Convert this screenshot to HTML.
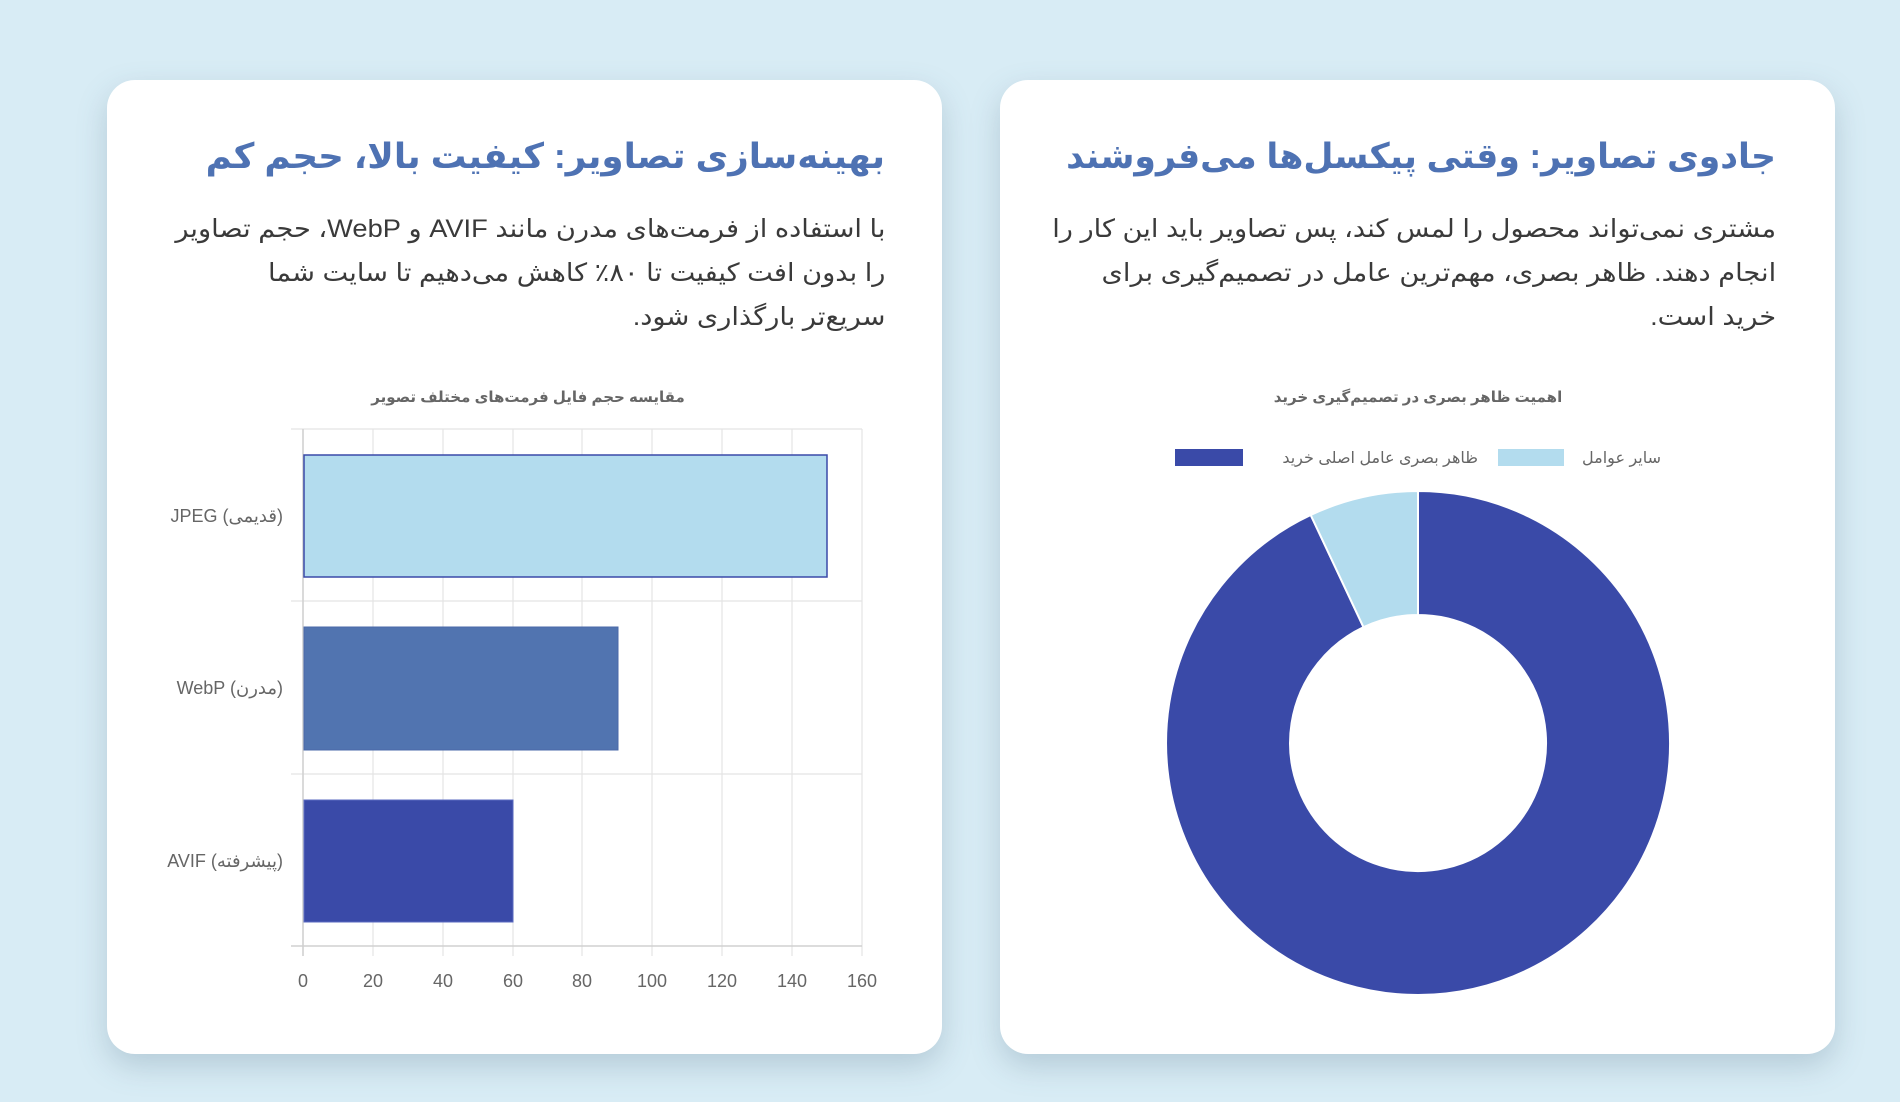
<!DOCTYPE html>
<html><head><meta charset="utf-8">
<style>
html,body{margin:0;padding:0;}
body{width:1900px;height:1102px;background:#d8ecf5;position:relative;overflow:hidden;font-family:"Liberation Sans","DejaVu Sans",sans-serif;}
.card{position:absolute;top:80px;width:835px;height:974px;background:#fff;border-radius:28px;box-shadow:0 12px 30px rgba(90,120,140,0.28);}
.t{position:absolute;direction:rtl;text-align:right;white-space:nowrap;transform-origin:right top;}
h2{margin:0;font-size:35px;font-weight:bold;color:#4e72b3;}
.p{font-size:25px;color:#3a3a3a;line-height:44px;transform:scaleX(1.09);}
svg{position:absolute;left:0;top:0;}
</style></head><body>
<div class="card" style="left:107px"></div>
<div class="card" style="left:1000px"></div>

<div class="t" style="right:1015px;top:137px;transform:scaleX(1.02)"><h2>بهینه‌سازی تصاویر: کیفیت بالا، حجم کم</h2></div>
<div class="t p" style="right:1015px;top:207px">با استفاده از فرمت‌های مدرن مانند AVIF و WebP، حجم تصاویر<br>را بدون افت کیفیت تا ۸۰٪ کاهش می‌دهیم تا سایت شما<br>سریع‌تر بارگذاری شود.</div>

<div class="t" style="right:124px;top:137px;transform:scaleX(0.99)"><h2>جادوی تصاویر: وقتی پیکسل‌ها می‌فروشند</h2></div>
<div class="t p" style="right:124px;top:207px">مشتری نمی‌تواند محصول را لمس کند، پس تصاویر باید این کار را<br>انجام دهند. ظاهر بصری، مهم‌ترین عامل در تصمیم‌گیری برای<br>خرید است.</div>

<svg width="1900" height="1102" font-family="Liberation Sans, DejaVu Sans, sans-serif">
<text x="528" y="402" font-size="15" font-weight="bold" fill="#666" text-anchor="middle" direction="rtl">مقایسه حجم فایل فرمت‌های مختلف تصویر</text>
<g stroke="#e4e4e4" stroke-width="1.2">
<line x1="303" y1="429" x2="303" y2="956"/><line x1="373" y1="429" x2="373" y2="956"/><line x1="443" y1="429" x2="443" y2="956"/><line x1="513" y1="429" x2="513" y2="956"/><line x1="582" y1="429" x2="582" y2="956"/><line x1="652" y1="429" x2="652" y2="956"/><line x1="722" y1="429" x2="722" y2="956"/><line x1="792" y1="429" x2="792" y2="956"/><line x1="862" y1="429" x2="862" y2="956"/>
<line x1="291" y1="429" x2="862" y2="429"/><line x1="291" y1="601" x2="862" y2="601"/><line x1="291" y1="774" x2="862" y2="774"/>
</g>
<line x1="291" y1="946" x2="862" y2="946" stroke="#d0d0d0" stroke-width="1.5"/>
<line x1="303" y1="429" x2="303" y2="956" stroke="#d0d0d0" stroke-width="1.5"/>
<rect x="304" y="455" width="523" height="122" fill="#b3dcee" stroke="#3a4aa8" stroke-width="1.5"/>
<rect x="304" y="627" width="314" height="123" fill="#5174b0" stroke="#4a68a8" stroke-width="1"/>
<rect x="304" y="800" width="209" height="122" fill="#3a4aa8" stroke="#5a6ac0" stroke-width="1"/>
<g font-size="18" fill="#666" text-anchor="end">
<text x="283" y="522">JPEG (قدیمی)</text>
<text x="283" y="694">WebP (مدرن)</text>
<text x="283" y="867">AVIF (پیشرفته)</text>
</g>
<g font-size="18" fill="#666" text-anchor="middle">
<text x="303" y="987">0</text><text x="373" y="987">20</text><text x="443" y="987">40</text><text x="513" y="987">60</text><text x="582" y="987">80</text><text x="652" y="987">100</text><text x="722" y="987">120</text><text x="792" y="987">140</text><text x="862" y="987">160</text>
</g>

<text x="1418" y="402" font-size="15" font-weight="bold" fill="#666" text-anchor="middle">اهمیت ظاهر بصری در تصمیم‌گیری خرید</text>
<rect x="1498" y="449" width="66" height="17" fill="#b3dcee"/>
<text x="1661" y="463" font-size="16" fill="#666" text-anchor="end">سایر عوامل</text>
<rect x="1175" y="449" width="68" height="17" fill="#3a4aa8"/>
<text x="1478" y="463" font-size="16" fill="#666" text-anchor="end">ظاهر بصری عامل اصلی خرید</text>
<path d="M1418 491 A252 252 0 1 1 1310.7 515 L1363.5 627.2 A128 128 0 1 0 1418 615 Z" fill="#3a4aa8" stroke="#fff" stroke-width="2"/>
<path d="M1418 491 L1418 615 A128 128 0 0 0 1363.5 627.2 L1310.7 515 A252 252 0 0 1 1418 491 Z" fill="#b3dcee" stroke="#fff" stroke-width="2"/>
</svg>
</body></html>
